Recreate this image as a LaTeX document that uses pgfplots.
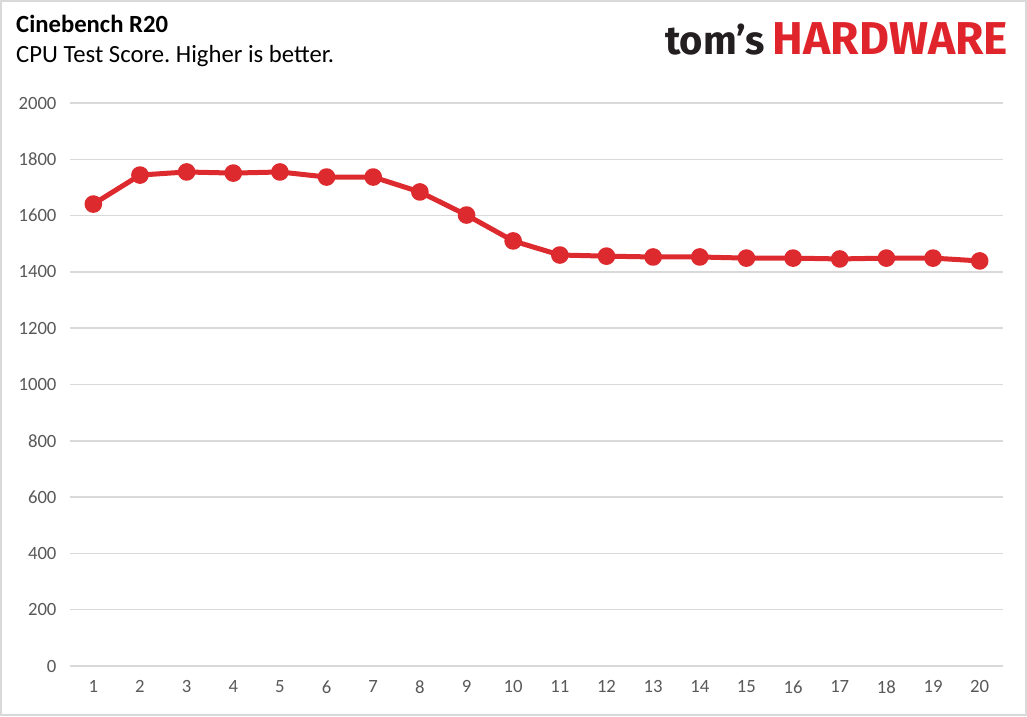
\documentclass[border=0pt]{standalone}
\usepackage{pgfplots}
\pgfplotsset{compat=1.18}
\usepackage{fontspec}
\setmainfont{Carlito}
\newfontfamily\logofont{Fira Sans}
\definecolor{gridgray}{HTML}{D9D9D9}
\definecolor{ticktext}{HTML}{595959}
\definecolor{linered}{HTML}{DD2A2E}
\definecolor{logored}{HTML}{E0242B}
\definecolor{logodark}{HTML}{231F20}
\frenchspacing
\begin{document}
\begin{tikzpicture}[x=1pt,y=1pt]
\fill[white] (-70,-50) rectangle (957,666);
\draw[gridgray, line width=2pt] (-69,-49) rectangle (956,665);
\begin{axis}[at={(0,0)}, anchor=south west, scale only axis,
  width=933pt, height=563pt,
  xmin=0.5, xmax=20.5, ymin=0, ymax=2000,
  ytick={0,200,...,2000}, xtick={1,...,20},
  ymajorgrids, grid style={gridgray, line width=1.5pt},
  axis line style={draw=none}, major tick length=0pt,
  tick label style={font=\fontsize{18.7}{22}\selectfont, text=ticktext},
  /pgf/number format/assume math mode=true,
  /pgf/number format/1000 sep={},
  yticklabel style={xshift=-10pt},
  xticklabel style={yshift=-11pt},
  clip=false]
\addplot[linered, line width=5pt, line join=round, mark=*, mark size=6.3pt, mark options={fill=linered, draw=none}] coordinates {
(1,1641) (2,1744) (3,1755) (4,1751) (5,1755) (6,1737) (7,1737) (8,1684) (9,1602) (10,1510)
(11,1460) (12,1456) (13,1453) (14,1453) (15,1449) (16,1449) (17,1446) (18,1449) (19,1449) (20,1439)};
\end{axis}
\node[anchor=base west, inner sep=0] at (-54,633) {\fontsize{24.7}{28}\selectfont\bfseries Cinebench R20};
\node[anchor=base west, inner sep=0] at (-54,603) {\fontsize{24.7}{28}\selectfont CPU Test Score. Higher is better.};
\node[anchor=base west, inner sep=0, text=logodark] at (595,611) {\resizebox{100pt}{!}{\logofont\bfseries\fontsize{40}{44}\selectfont tom’s}};
\node[anchor=base east, inner sep=0, text=logored] at (938,611) {\resizebox{235pt}{!}{\logofont\bfseries\fontsize{40}{44}\selectfont HARDWARE}};
\end{tikzpicture}
\end{document}
